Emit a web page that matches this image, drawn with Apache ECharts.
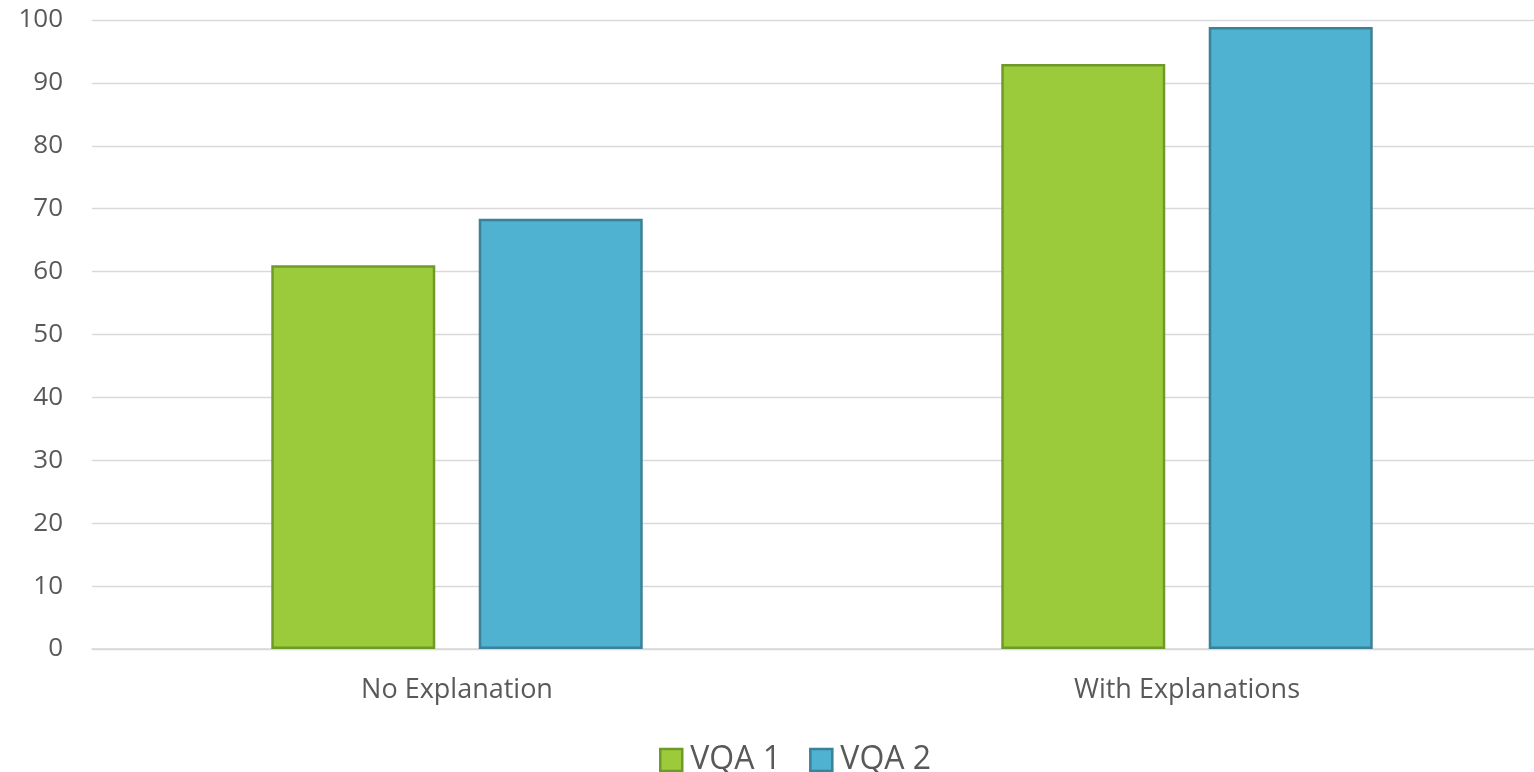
<!DOCTYPE html>
<html>
<head>
<meta charset="utf-8">
<title>VQA accuracy</title>
<script src="https://cdn.jsdelivr.net/npm/echarts@6/dist/echarts.min.js"></script>
<style>
  html, body { margin: 0; padding: 0; background: #fff; overflow: hidden; }
  /* the plot runs a little past the right edge of the window */
  #chart { width: 1560px; height: 772px; }
</style>
</head>
<body>
<div id="chart"></div>
<script>
// Categories and series values
const categories = ['No Explanation', 'With Explanations'];
const vqa1 = [61, 93];
const vqa2 = [68.4, 98.9];
const seriesNames = ['VQA 1', 'VQA 2'];
const yTicks = { min: 0, max: 100, interval: 10 };

const FONT = '"Open Sans", "Noto Sans", sans-serif';
const TEXT = '#595959';
const GRID = '#d9d9d9';

const chart = echarts.init(document.getElementById('chart'), null, { renderer: 'canvas' });

const green = { color: '#9bcb3b', borderColor: '#6f9a29', borderWidth: 2.5 };
const blue = { color: '#4eb2d0', borderColor: '#3a8199', borderWidth: 2.5 };

chart.setOption({
  animation: false,
  textStyle: { fontFamily: FONT },
  grid: { left: 92, top: 20, width: 1460, height: 629, containLabel: false },
  legend: {
    data: seriesNames.map((n, i) => ({
      name: n,
      icon: 'rect',
      itemStyle: i === 0 ? green : blue
    })),
    left: 654,
    top: 739,
    itemWidth: 22,
    itemHeight: 22,
    itemGap: 28,
    textStyle: { fontFamily: FONT, fontSize: 32, color: TEXT, padding: [0, 0, 0, 3] }
  },
  xAxis: {
    type: 'category',
    data: categories,
    axisLine: { show: true, lineStyle: { color: GRID, width: 1.5 } },
    axisTick: { show: false },
    axisLabel: { fontFamily: FONT, fontSize: 27, color: TEXT, margin: 28 }
  },
  yAxis: {
    type: 'value',
    min: yTicks.min,
    max: yTicks.max,
    interval: yTicks.interval,
    axisLine: { show: false },
    axisTick: { show: false },
    axisLabel: { fontFamily: FONT, fontSize: 26, color: TEXT, margin: 29 },
    splitLine: { lineStyle: { color: GRID, width: 1.3 } }
  },
  series: [
    {
      name: seriesNames[0],
      type: 'bar',
      data: vqa1,
      barWidth: 164,
      barGap: '26.5%',
      itemStyle: green
    },
    {
      name: seriesNames[1],
      type: 'bar',
      data: vqa2,
      barWidth: 164,
      barGap: '26.5%',
      itemStyle: blue
    }
  ]
});
</script>
</body>
</html>
